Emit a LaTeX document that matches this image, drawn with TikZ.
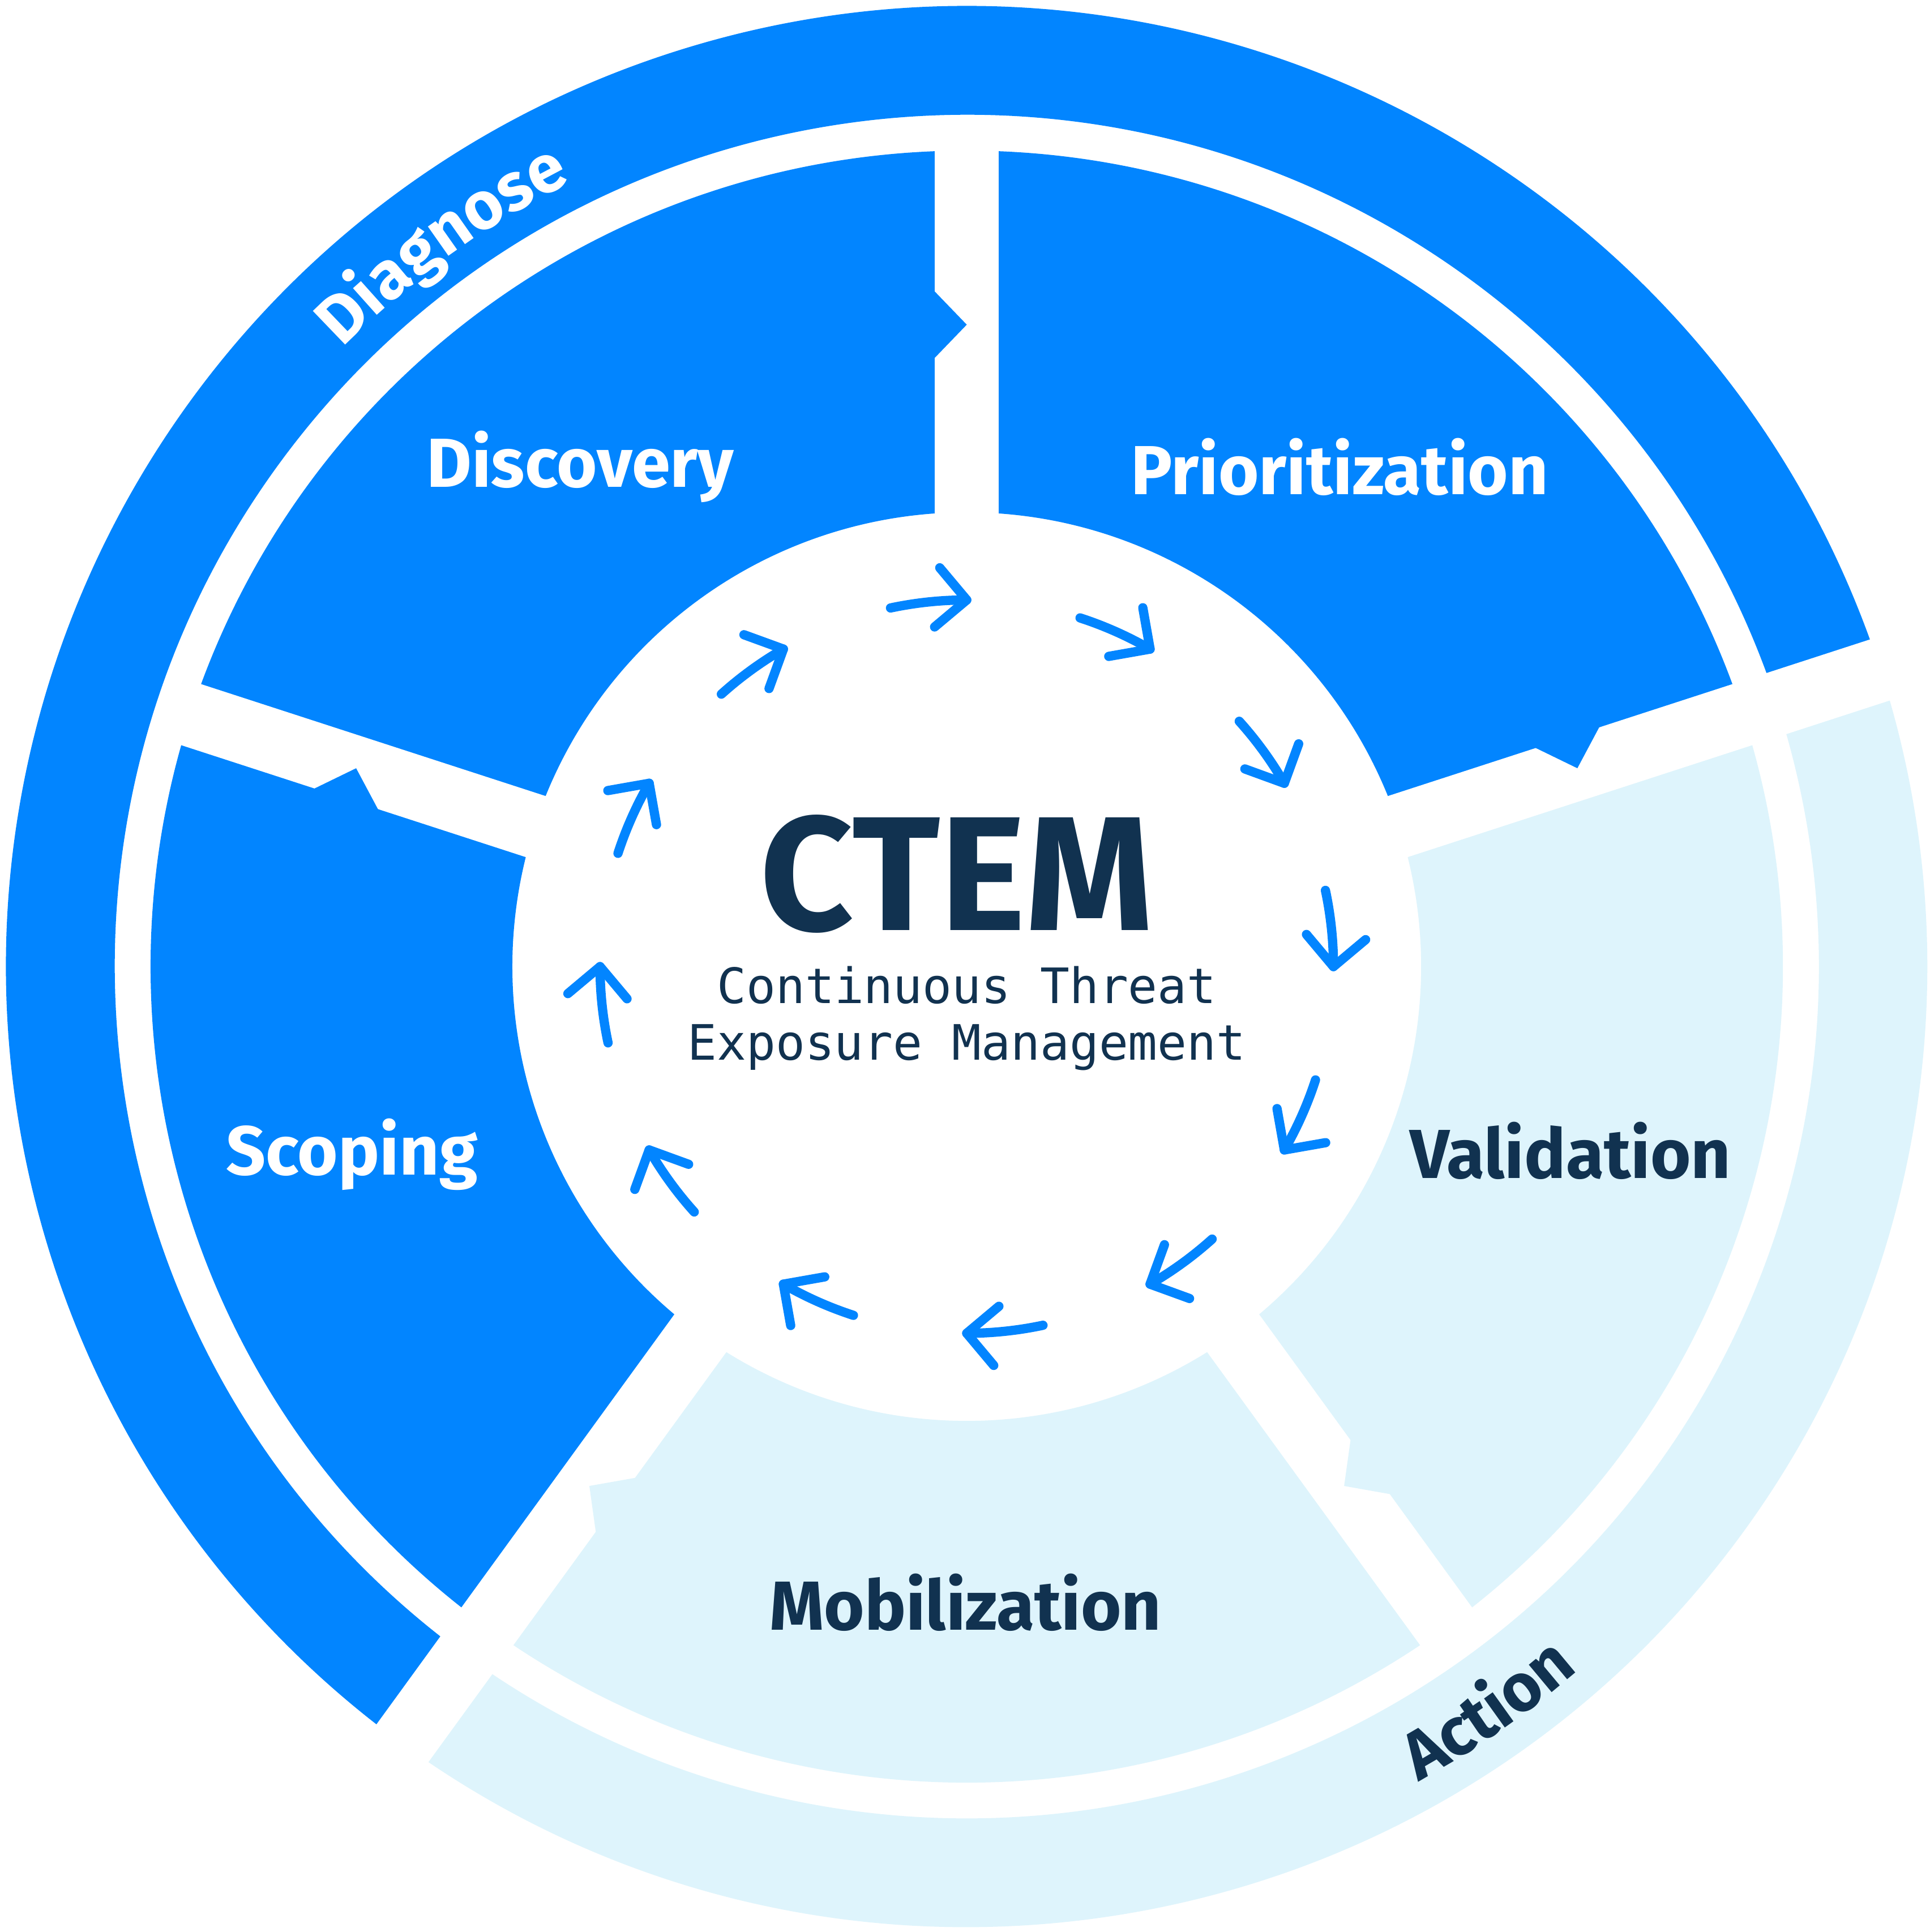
\documentclass[tikz,border=0pt]{standalone}
\usepackage{fontspec}
\setmainfont{Fira Sans}
\newfontfamily\monof{DejaVu Sans Mono}
\usetikzlibrary{decorations.text,calc}
\definecolor{cblue}{RGB}{2,133,255}
\definecolor{clight}{RGB}{222,244,252}
\definecolor{cnavy}{RGB}{17,50,80}
\begin{document}
\begin{tikzpicture}[x=0.02cm,y=0.02cm,
  gap/.style={white,line width=1.04cm},
  arr/.style={cblue,line width=0.15cm,line cap=round,line join=round},
  seg/.style={font=\bfseries\fontsize{32}{36}\selectfont}]
\useasboundingbox (-783,-782) rectangle (780,783);
\fill[white] (-783,-782) rectangle (780,783);
% outer ring
\fill[cblue] (18:778) arc[start angle=18,end angle=234,radius=778] -- (234:690) arc[start angle=234,end angle=18,radius=690] -- cycle;
\fill[clight] (234:778) arc[start angle=234,end angle=378,radius=778] -- (18:690) arc[start angle=18,end angle=-126,radius=690] -- cycle;
% inner segments
\foreach \a/\c in {90/cblue,162/cblue,18/cblue,-54/clight,-126/clight}{
  \fill[\c] (\a:661) arc[start angle=\a,end angle=\a+72,radius=661] -- (\a+72:368) arc[start angle=\a+72,end angle=\a,radius=368] -- cycle;}
\foreach \a in {90,162,306}{\draw[gap] (\a:340) -- (\a:670);}
\foreach \a in {18,234}{\draw[gap] (\a:340) -- (\a:800);}
% tabs
\foreach \a/\c in {90/cblue,162/cblue,18/cblue,306/clight,234/clight}{
  \fill[\c] ($(\a:492)+(\a+90:27)$) -- (\a:520) -- ($(\a:548)+(\a+90:27)$) -- cycle;}
% ring labels
\path[decorate,decoration={text along path,text align=center,
  text={|\bfseries\fontsize{31}{34}\selectfont\color{white}|Diagnose}}]
  (138:712) arc[start angle=138,end angle=114,radius=712];
\path[decorate,decoration={text along path,text align=center,
  text={|\bfseries\fontsize{31}{34}\selectfont\color{cnavy}|Action}}]
  (-67:755) arc[start angle=-67,end angle=-43,radius=755];
% segment labels
\node[seg,white] (disc) at (-313,405) {Discovery};
\node[seg,white] (prio) at (302,405) {Prioritization};
\node[seg,white] (scop) at (-498,-152) {Scoping};
\node[seg,cnavy] (vali) at (489,-149) {Validation};
\node[seg,cnavy] (mobi) at (-1,-515) {Mobilization};
% center
\node[cnavy,font=\bfseries\fontsize{75}{76}\selectfont] (ctem) at (-8,75) {CTEM};
\node[cnavy,font=\monof\fontsize{22.5}{26}\selectfont,align=center] (sub) at (0,-42) {Continuous Threat\\Exposure Management};
% arrows
\foreach \k in {0,...,11}{
  \pgfmathsetmacro{\t}{90-30*\k}
  \draw[arr] (\t+12:297) arc[start angle=\t+12,end angle=\t,radius=297];
  \draw[arr] ($(\t:297)+(\t+40:34)$) -- (\t:297) -- ($(\t:297)+(\t+130:34)$);}
\end{tikzpicture}
\end{document}
